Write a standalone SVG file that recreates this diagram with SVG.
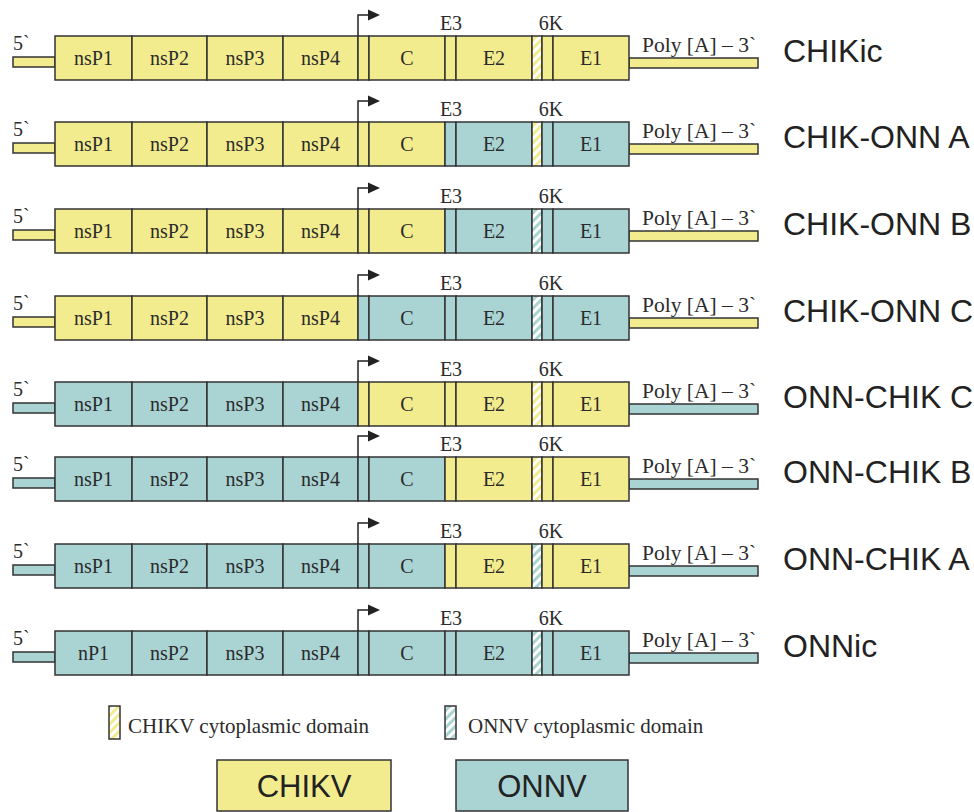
<svg xmlns="http://www.w3.org/2000/svg" width="974" height="812" viewBox="0 0 974 812">
<style>
.y{fill:#F3EC8F;stroke:#333;stroke-width:1.5}
.t{fill:#AAD3D4;stroke:#333;stroke-width:1.5}
.hy{fill:url(#hatchY);stroke:#333;stroke-width:1.5}
.ht{fill:url(#hatchT);stroke:#333;stroke-width:1.5}
.s{font-family:"Liberation Serif","Times New Roman",serif;font-size:20px;fill:#2b2b2b}
.p{font-size:21.5px}
.lg{font-size:21px}
.m{text-anchor:middle}
.n{font-family:"Liberation Sans",Arial,sans-serif;font-size:32px;fill:#222}
.b{font-size:31px}
.ar{fill:none;stroke:#222;stroke-width:1.5}
.ah{fill:#222}
</style>
<defs>
<pattern id="hatchY" patternUnits="userSpaceOnUse" width="6" height="6" patternTransform="rotate(45)">
<rect width="6" height="6" fill="#fff"/><rect width="3" height="6" fill="#F3EC8F"/>
</pattern>
<pattern id="hatchT" patternUnits="userSpaceOnUse" width="6" height="6" patternTransform="rotate(45)">
<rect width="6" height="6" fill="#fff"/><rect width="3" height="6" fill="#AAD3D4"/>
</pattern>
<g id="arrow">
<path class="ar" d="M358 0V-21H370"/>
<polygon class="ah" points="368,-26.5 380,-21 368,-15.5"/>
</g>
</defs>

<g id="row1" transform="translate(0,36)">
<rect class="y" x="13" y="21" width="42" height="10"/>
<rect class="y" x="629" y="22" width="129" height="10"/>
<rect class="y" x="55" y="0" width="77" height="44"/>
<rect class="y" x="132" y="0" width="75" height="44"/>
<rect class="y" x="207" y="0" width="76" height="44"/>
<rect class="y" x="283" y="0" width="75" height="44"/>
<rect class="y" x="358" y="0" width="11" height="44"/>
<rect class="y" x="369" y="0" width="76" height="44"/>
<rect class="y" x="445" y="0" width="11" height="44"/>
<rect class="y" x="456" y="0" width="76" height="44"/>
<rect class="hy" x="532" y="0" width="10" height="44"/>
<rect class="y" x="542" y="0" width="11" height="44"/>
<rect class="y" x="553" y="0" width="76" height="44"/>
<use href="#arrow"/>
<text class="s" x="13" y="14">5`</text>
<text class="s p" x="642" y="16">Poly [A] – 3`</text>
<text class="s m" x="451" y="-6">E3</text>
<text class="s m" x="551" y="-6">6K</text>
<text class="s m" x="93.5" y="29">nsP1</text>
<text class="s m" x="169.5" y="29">nsP2</text>
<text class="s m" x="245" y="29">nsP3</text>
<text class="s m" x="320.5" y="29">nsP4</text>
<text class="s m" x="407" y="29">C</text>
<text class="s m" x="494" y="29">E2</text>
<text class="s m" x="591" y="29">E1</text>
<text class="n" x="783" y="26">CHIKic</text>
</g>

<g id="row2" transform="translate(0,122)">
<rect class="y" x="13" y="21" width="42" height="10"/>
<rect class="y" x="629" y="22" width="129" height="10"/>
<rect class="y" x="55" y="0" width="77" height="44"/>
<rect class="y" x="132" y="0" width="75" height="44"/>
<rect class="y" x="207" y="0" width="76" height="44"/>
<rect class="y" x="283" y="0" width="75" height="44"/>
<rect class="y" x="358" y="0" width="11" height="44"/>
<rect class="y" x="369" y="0" width="76" height="44"/>
<rect class="t" x="445" y="0" width="11" height="44"/>
<rect class="t" x="456" y="0" width="76" height="44"/>
<rect class="hy" x="532" y="0" width="10" height="44"/>
<rect class="t" x="542" y="0" width="11" height="44"/>
<rect class="t" x="553" y="0" width="76" height="44"/>
<use href="#arrow"/>
<text class="s" x="13" y="14">5`</text>
<text class="s p" x="642" y="16">Poly [A] – 3`</text>
<text class="s m" x="451" y="-6">E3</text>
<text class="s m" x="551" y="-6">6K</text>
<text class="s m" x="93.5" y="29">nsP1</text>
<text class="s m" x="169.5" y="29">nsP2</text>
<text class="s m" x="245" y="29">nsP3</text>
<text class="s m" x="320.5" y="29">nsP4</text>
<text class="s m" x="407" y="29">C</text>
<text class="s m" x="494" y="29">E2</text>
<text class="s m" x="591" y="29">E1</text>
<text class="n" x="783" y="26">CHIK-ONN A</text>
</g>

<g id="row3" transform="translate(0,209)">
<rect class="y" x="13" y="21" width="42" height="10"/>
<rect class="y" x="629" y="22" width="129" height="10"/>
<rect class="y" x="55" y="0" width="77" height="44"/>
<rect class="y" x="132" y="0" width="75" height="44"/>
<rect class="y" x="207" y="0" width="76" height="44"/>
<rect class="y" x="283" y="0" width="75" height="44"/>
<rect class="y" x="358" y="0" width="11" height="44"/>
<rect class="y" x="369" y="0" width="76" height="44"/>
<rect class="t" x="445" y="0" width="11" height="44"/>
<rect class="t" x="456" y="0" width="76" height="44"/>
<rect class="ht" x="532" y="0" width="10" height="44"/>
<rect class="t" x="542" y="0" width="11" height="44"/>
<rect class="t" x="553" y="0" width="76" height="44"/>
<use href="#arrow"/>
<text class="s" x="13" y="14">5`</text>
<text class="s p" x="642" y="16">Poly [A] – 3`</text>
<text class="s m" x="451" y="-6">E3</text>
<text class="s m" x="551" y="-6">6K</text>
<text class="s m" x="93.5" y="29">nsP1</text>
<text class="s m" x="169.5" y="29">nsP2</text>
<text class="s m" x="245" y="29">nsP3</text>
<text class="s m" x="320.5" y="29">nsP4</text>
<text class="s m" x="407" y="29">C</text>
<text class="s m" x="494" y="29">E2</text>
<text class="s m" x="591" y="29">E1</text>
<text class="n" x="783" y="26">CHIK-ONN B</text>
</g>

<g id="row4" transform="translate(0,296)">
<rect class="y" x="13" y="21" width="42" height="10"/>
<rect class="y" x="629" y="22" width="129" height="10"/>
<rect class="y" x="55" y="0" width="77" height="44"/>
<rect class="y" x="132" y="0" width="75" height="44"/>
<rect class="y" x="207" y="0" width="76" height="44"/>
<rect class="y" x="283" y="0" width="75" height="44"/>
<rect class="t" x="358" y="0" width="11" height="44"/>
<rect class="t" x="369" y="0" width="76" height="44"/>
<rect class="t" x="445" y="0" width="11" height="44"/>
<rect class="t" x="456" y="0" width="76" height="44"/>
<rect class="ht" x="532" y="0" width="10" height="44"/>
<rect class="t" x="542" y="0" width="11" height="44"/>
<rect class="t" x="553" y="0" width="76" height="44"/>
<use href="#arrow"/>
<text class="s" x="13" y="14">5`</text>
<text class="s p" x="642" y="16">Poly [A] – 3`</text>
<text class="s m" x="451" y="-6">E3</text>
<text class="s m" x="551" y="-6">6K</text>
<text class="s m" x="93.5" y="29">nsP1</text>
<text class="s m" x="169.5" y="29">nsP2</text>
<text class="s m" x="245" y="29">nsP3</text>
<text class="s m" x="320.5" y="29">nsP4</text>
<text class="s m" x="407" y="29">C</text>
<text class="s m" x="494" y="29">E2</text>
<text class="s m" x="591" y="29">E1</text>
<text class="n" x="783" y="26">CHIK-ONN C</text>
</g>

<g id="row5" transform="translate(0,382)">
<rect class="t" x="13" y="21" width="42" height="10"/>
<rect class="t" x="629" y="22" width="129" height="10"/>
<rect class="t" x="55" y="0" width="77" height="44"/>
<rect class="t" x="132" y="0" width="75" height="44"/>
<rect class="t" x="207" y="0" width="76" height="44"/>
<rect class="t" x="283" y="0" width="75" height="44"/>
<rect class="y" x="358" y="0" width="11" height="44"/>
<rect class="y" x="369" y="0" width="76" height="44"/>
<rect class="y" x="445" y="0" width="11" height="44"/>
<rect class="y" x="456" y="0" width="76" height="44"/>
<rect class="hy" x="532" y="0" width="10" height="44"/>
<rect class="y" x="542" y="0" width="11" height="44"/>
<rect class="y" x="553" y="0" width="76" height="44"/>
<use href="#arrow"/>
<text class="s" x="13" y="14">5`</text>
<text class="s p" x="642" y="16">Poly [A] – 3`</text>
<text class="s m" x="451" y="-6">E3</text>
<text class="s m" x="551" y="-6">6K</text>
<text class="s m" x="93.5" y="29">nsP1</text>
<text class="s m" x="169.5" y="29">nsP2</text>
<text class="s m" x="245" y="29">nsP3</text>
<text class="s m" x="320.5" y="29">nsP4</text>
<text class="s m" x="407" y="29">C</text>
<text class="s m" x="494" y="29">E2</text>
<text class="s m" x="591" y="29">E1</text>
<text class="n" x="783" y="26">ONN-CHIK C</text>
</g>

<g id="row6" transform="translate(0,457)">
<rect class="t" x="13" y="21" width="42" height="10"/>
<rect class="t" x="629" y="22" width="129" height="10"/>
<rect class="t" x="55" y="0" width="77" height="44"/>
<rect class="t" x="132" y="0" width="75" height="44"/>
<rect class="t" x="207" y="0" width="76" height="44"/>
<rect class="t" x="283" y="0" width="75" height="44"/>
<rect class="t" x="358" y="0" width="11" height="44"/>
<rect class="t" x="369" y="0" width="76" height="44"/>
<rect class="y" x="445" y="0" width="11" height="44"/>
<rect class="y" x="456" y="0" width="76" height="44"/>
<rect class="hy" x="532" y="0" width="10" height="44"/>
<rect class="y" x="542" y="0" width="11" height="44"/>
<rect class="y" x="553" y="0" width="76" height="44"/>
<use href="#arrow"/>
<text class="s" x="13" y="14">5`</text>
<text class="s p" x="642" y="16">Poly [A] – 3`</text>
<text class="s m" x="451" y="-6">E3</text>
<text class="s m" x="551" y="-6">6K</text>
<text class="s m" x="93.5" y="29">nsP1</text>
<text class="s m" x="169.5" y="29">nsP2</text>
<text class="s m" x="245" y="29">nsP3</text>
<text class="s m" x="320.5" y="29">nsP4</text>
<text class="s m" x="407" y="29">C</text>
<text class="s m" x="494" y="29">E2</text>
<text class="s m" x="591" y="29">E1</text>
<text class="n" x="783" y="26">ONN-CHIK B</text>
</g>

<g id="row7" transform="translate(0,544)">
<rect class="t" x="13" y="21" width="42" height="10"/>
<rect class="t" x="629" y="22" width="129" height="10"/>
<rect class="t" x="55" y="0" width="77" height="44"/>
<rect class="t" x="132" y="0" width="75" height="44"/>
<rect class="t" x="207" y="0" width="76" height="44"/>
<rect class="t" x="283" y="0" width="75" height="44"/>
<rect class="t" x="358" y="0" width="11" height="44"/>
<rect class="t" x="369" y="0" width="76" height="44"/>
<rect class="y" x="445" y="0" width="11" height="44"/>
<rect class="y" x="456" y="0" width="76" height="44"/>
<rect class="ht" x="532" y="0" width="10" height="44"/>
<rect class="y" x="542" y="0" width="11" height="44"/>
<rect class="y" x="553" y="0" width="76" height="44"/>
<use href="#arrow"/>
<text class="s" x="13" y="14">5`</text>
<text class="s p" x="642" y="16">Poly [A] – 3`</text>
<text class="s m" x="451" y="-6">E3</text>
<text class="s m" x="551" y="-6">6K</text>
<text class="s m" x="93.5" y="29">nsP1</text>
<text class="s m" x="169.5" y="29">nsP2</text>
<text class="s m" x="245" y="29">nsP3</text>
<text class="s m" x="320.5" y="29">nsP4</text>
<text class="s m" x="407" y="29">C</text>
<text class="s m" x="494" y="29">E2</text>
<text class="s m" x="591" y="29">E1</text>
<text class="n" x="783" y="26">ONN-CHIK A</text>
</g>

<g id="row8" transform="translate(0,631)">
<rect class="t" x="13" y="21" width="42" height="10"/>
<rect class="t" x="629" y="22" width="129" height="10"/>
<rect class="t" x="55" y="0" width="77" height="44"/>
<rect class="t" x="132" y="0" width="75" height="44"/>
<rect class="t" x="207" y="0" width="76" height="44"/>
<rect class="t" x="283" y="0" width="75" height="44"/>
<rect class="t" x="358" y="0" width="11" height="44"/>
<rect class="t" x="369" y="0" width="76" height="44"/>
<rect class="t" x="445" y="0" width="11" height="44"/>
<rect class="t" x="456" y="0" width="76" height="44"/>
<rect class="ht" x="532" y="0" width="10" height="44"/>
<rect class="t" x="542" y="0" width="11" height="44"/>
<rect class="t" x="553" y="0" width="76" height="44"/>
<use href="#arrow"/>
<text class="s" x="13" y="14">5`</text>
<text class="s p" x="642" y="16">Poly [A] – 3`</text>
<text class="s m" x="451" y="-6">E3</text>
<text class="s m" x="551" y="-6">6K</text>
<text class="s m" x="93.5" y="29">nP1</text>
<text class="s m" x="169.5" y="29">nsP2</text>
<text class="s m" x="245" y="29">nsP3</text>
<text class="s m" x="320.5" y="29">nsP4</text>
<text class="s m" x="407" y="29">C</text>
<text class="s m" x="494" y="29">E2</text>
<text class="s m" x="591" y="29">E1</text>
<text class="n" x="783" y="26">ONNic</text>
</g>

<g id="legend">
<rect class="hy" x="109" y="706" width="11" height="33"/>
<text class="s lg" x="128" y="733">CHIKV cytoplasmic domain</text>
<rect class="ht" x="445" y="706" width="11" height="33"/>
<text class="s lg" x="468" y="733">ONNV cytoplasmic domain</text>
<rect class="y" x="217" y="760" width="174" height="51"/>
<text class="n b m" x="304" y="797">CHIKV</text>
<rect class="t" x="456" y="760" width="172" height="51"/>
<text class="n b m" x="542" y="797">ONNV</text>
</g>
</svg>
